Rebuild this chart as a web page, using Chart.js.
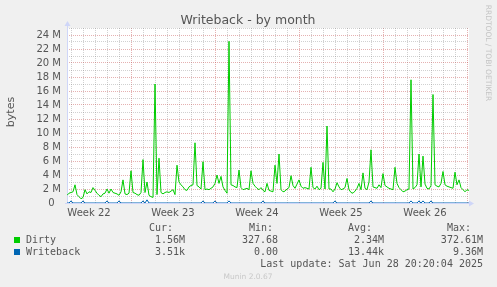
<!DOCTYPE html>
<html>
<head>
<meta charset="utf-8">
<script src="https://cdn.jsdelivr.net/npm/chart.js@4/dist/chart.umd.min.js"></script>
<style>
  html, body { margin: 0; padding: 0; background: #f0f0f0; overflow: hidden; }
  canvas { display: block; }
</style>
</head>
<body>
<canvas id="graph" width="497" height="287"></canvas>
<script>
// ─── DATA ──────────────────────────────────────────────
const STEP_H = 4;          // hours between samples
const FIRST_WEEK_H = 128;  // hour of the first week boundary after start
const weekLabels = ['Week 22', 'Week 23', 'Week 24', 'Week 25', 'Week 26'];

// Dirty, in MB
const dirty = [
  1.1, 1.4, 1.5, 1.6, 2.6, 1.2, 0.9, 0.6, 0.8, 1.9,
  1.3, 1.6, 1.5, 2.2, 1.8, 1.4, 1.1, 0.9, 1.3, 1.4,
  2.0, 1.4, 2.0, 1.5, 1.4, 1.3, 1.1, 1.6, 3.3, 1.3,
  1.2, 1.4, 4.6, 1.5, 1.4, 1.2, 1.1, 1.5, 6.2, 1.5,
  3.0, 1.1, 0.9, 0.8, 17.0, 1.2, 6.4, 1.5, 1.3, 1.5,
  1.6, 1.5, 1.7, 1.9, 1.2, 5.4, 3.0, 2.6, 2.3, 1.9,
  1.8, 2.3, 2.5, 2.6, 8.6, 2.5, 2.3, 2.0, 5.9, 1.9,
  2.0, 1.9, 2.1, 2.3, 2.8, 4.0, 2.8, 3.8, 2.3, 1.8,
  1.4, 23.1, 2.6, 2.5, 2.3, 2.2, 4.7, 2.2, 1.9, 2.0,
  2.1, 1.9, 4.6, 2.8, 2.4, 2.1, 1.9, 2.2, 1.8, 1.6,
  2.8, 1.8, 1.7, 1.6, 5.4, 2.8, 7.0, 1.9, 1.6, 1.7,
  2.0, 2.2, 3.9, 2.5, 2.1, 2.7, 3.3, 2.4, 2.1, 2.2,
  2.1, 2.0, 5.1, 2.2, 2.0, 2.4, 1.9, 2.1, 5.8, 2.0,
  11.0, 2.0, 2.0, 1.6, 2.0, 2.9, 2.3, 1.9, 2.0, 2.2,
  3.5, 1.9, 1.5, 1.4, 1.7, 2.1, 2.8, 1.9, 4.3, 2.1,
  1.9, 3.0, 7.6, 2.3, 2.2, 2.1, 2.6, 2.2, 4.2, 2.5,
  2.3, 2.1, 2.0, 1.9, 5.1, 2.8, 2.2, 1.9, 1.6, 1.7,
  1.9, 2.0, 17.6, 2.0, 2.2, 2.6, 7.0, 2.3, 6.7, 2.7,
  2.1, 2.0, 2.5, 15.5, 2.6, 2.4, 2.3, 2.8, 4.5, 2.6,
  2.4, 2.3, 2.2, 2.1, 4.4, 2.6, 3.3, 2.2, 1.9, 1.6,
  1.9, 1.8
];

// Writeback, in MB
const writeback = [
  0, 0, 0.3, 0, 0, 0, 0, 0, 0.3, 0,  0, 0, 0, 0, 0, 0, 0, 0, 0, 0,
  0.3, 0, 0, 0, 0, 0, 0.3, 0, 0, 0,  0, 0, 0, 0, 0, 0, 0, 0, 0.3, 0,
  0.45, 0, 0, 0, 0, 0, 0, 0, 0, 0,   0, 0, 0, 0, 0, 0, 0, 0, 0, 0,
  0, 0, 0, 0, 0, 0, 0, 0, 0.3, 0,    0, 0, 0, 0, 0.3, 0, 0, 0, 0, 0,
  0, 0.3, 0, 0, 0, 0, 0, 0, 0, 0,    0, 0, 0, 0, 0, 0, 0, 0, 0.3, 0,
  0, 0, 0, 0, 0, 0, 0, 0, 0, 0,      0, 0, 0, 0, 0, 0, 0, 0, 0, 0,
  0, 0, 0, 0, 0, 0, 0, 0, 0, 0,      0, 0, 0, 0, 0.3, 0, 0, 0, 0, 0,
  0, 0, 0, 0, 0, 0, 0, 0, 0, 0,      0, 0, 0.3, 0, 0, 0, 0, 0, 0, 0,
  0, 0, 0, 0, 0, 0, 0, 0, 0, 0,      0, 0, 0.3, 0, 0, 0, 0.3, 0, 0.3, 0,
  0, 0, 0.3, 0, 0, 0, 0, 0, 0, 0,    0, 0, 0, 0, 0, 0, 0, 0, 0, 0,
  0, 0
];

const Y_MAX_M = 25;
const seriesNames = ['Dirty', 'Writeback'];
const curVals = ['1.56M', '3.51k'];
const minVals = ['327.68', '0.00'];
const avgVals = ['2.34M', '13.44k'];
const maxVals = ['372.61M', '9.36M'];
const lastUpdate = 'Last update: Sat Jun 28 20:20:04 2025';

// ─── STYLE ─────────────────────────────────────────────
const M = 1e6;
const COLORS = ['#00cc00', '#0066b3'];
const GRID = 'rgba(128,128,128,0.36)';
const MGRID = 'rgba(190,60,60,0.4)';
const AXIS = '#cfd6f8';
const FONT = '#555555';
const SANS = "'DejaVu Sans', sans-serif";
const MONO = "'DejaVu Sans Mono', monospace";

const xMax = (dirty.length - 1) * STEP_H;
const isLabelTick = v => (v - (FIRST_WEEK_H - 84)) % 168 === 0;

function toPoints(arr) {
  return arr.map((v, i) => ({ x: i * STEP_H, y: v * M }));
}

const muninPlugin = {
  id: 'munin',
  beforeDraw(chart) {
    const { ctx, chartArea: a } = chart;
    ctx.save();
    ctx.fillStyle = '#f0f0f0';
    ctx.fillRect(0, 0, chart.width, chart.height);
    ctx.fillStyle = '#ffffff';
    ctx.fillRect(a.left, a.top, a.right - a.left, a.bottom - a.top);
    ctx.restore();
  },
  beforeDatasetsDraw(chart) {
    const { ctx, chartArea: a } = chart;
    const x0 = Math.round(a.left) + 0.5;
    const y0 = Math.round(a.bottom) + 0.5;
    ctx.save();
    ctx.strokeStyle = AXIS;
    ctx.fillStyle = AXIS;
    ctx.lineWidth = 1;
    ctx.beginPath();
    ctx.moveTo(x0, y0);
    ctx.lineTo(x0, a.top - 3);
    ctx.moveTo(a.left - 2, y0);
    ctx.lineTo(a.right + 1, y0);
    ctx.stroke();
    // arrows
    ctx.beginPath();
    ctx.moveTo(x0 - 3, a.top - 2);
    ctx.lineTo(x0 + 3, a.top - 2);
    ctx.lineTo(x0, a.top - 7);
    ctx.closePath();
    ctx.fill();
    ctx.beginPath();
    ctx.moveTo(a.right, y0 - 3);
    ctx.lineTo(a.right, y0 + 3);
    ctx.lineTo(a.right + 5, y0);
    ctx.closePath();
    ctx.fill();
    ctx.restore();
  },
  afterDraw(chart) {
    const { ctx } = chart;
    ctx.save();
    ctx.fillStyle = FONT;
    ctx.textBaseline = 'alphabetic';

    ctx.font = '12.5px ' + SANS;
    ctx.textAlign = 'center';
    ctx.fillText('Writeback - by month', 248, 24);

    ctx.save();
    ctx.font = '11px ' + SANS;
    ctx.translate(14, 112);
    ctx.rotate(-Math.PI / 2);
    ctx.textAlign = 'center';
    ctx.fillText('bytes', 0, 0);
    ctx.restore();

    ctx.save();
    ctx.fillStyle = '#c4c4c4';
    ctx.font = '7.5px ' + SANS;
    ctx.translate(486, 53);
    ctx.rotate(Math.PI / 2);
    ctx.textAlign = 'center';
    ctx.fillText('RRDTOOL / TOBI OETIKER', 0, 0);
    ctx.restore();

    // legend
    ctx.font = '10px ' + MONO;
    ctx.textAlign = 'left';
    ctx.fillText('Cur:', 149, 231);
    ctx.fillText('Min:', 249, 231);
    ctx.fillText('Avg:', 348, 231);
    ctx.fillText('Max:', 447, 231);

    seriesNames.forEach((name, i) => {
      const base = 243 + i * 12;
      ctx.fillStyle = COLORS[i];
      ctx.fillRect(14, 237 + i * 12, 6, 6);
      ctx.fillStyle = FONT;
      ctx.textAlign = 'left';
      ctx.fillText(name, 26, base);
      ctx.textAlign = 'right';
      ctx.fillText(curVals[i], 185, base);
      ctx.fillText(minVals[i], 278, base);
      ctx.fillText(avgVals[i], 384, base);
      ctx.fillText(maxVals[i], 483, base);
    });

    ctx.textAlign = 'right';
    ctx.fillText(lastUpdate, 483, 267);

    ctx.fillStyle = '#c8c8c8';
    ctx.font = '7.5px ' + SANS;
    ctx.textAlign = 'center';
    ctx.fillText('Munin 2.0.67', 248, 279);
    ctx.restore();
  }
};

new Chart(document.getElementById('graph'), {
  type: 'line',
  data: {
    datasets: [
      { label: 'Dirty', data: toPoints(dirty), borderColor: COLORS[0], borderWidth: 1, pointRadius: 0, tension: 0, fill: false },
      { label: 'Writeback', data: toPoints(writeback), borderColor: COLORS[1], borderWidth: 1, pointRadius: 0, tension: 0, fill: false }
    ]
  },
  options: {
    responsive: false,
    animation: false,
    devicePixelRatio: 1,
    events: [],
    layout: { padding: { left: 0, top: 28, right: 28, bottom: 0 } },
    plugins: { legend: { display: false }, tooltip: { enabled: false } },
    scales: {
      x: {
        type: 'linear',
        min: 0,
        max: xMax,
        afterBuildTicks(scale) {
          const t = [];
          for (let h = FIRST_WEEK_H % 24; h <= xMax; h += 24) t.push({ value: h });
          weekLabels.forEach((_, k) => t.push({ value: FIRST_WEEK_H - 84 + 168 * k }));
          t.sort((a, b) => a.value - b.value);
          scale.ticks = t;
        },
        afterFit(scale) { scale.height = 84; },
        ticks: {
          autoSkip: false,
          maxRotation: 0,
          padding: 4,
          color: FONT,
          font: { family: SANS, size: 10 },
          callback: v => isLabelTick(v) ? weekLabels[(v - (FIRST_WEEK_H - 84)) / 168] : ''
        },
        grid: {
          drawTicks: false,
          color: ctx => {
            const v = ctx.tick.value;
            if (isLabelTick(v)) return 'transparent';
            return (v - FIRST_WEEK_H) % 168 === 0 ? MGRID : GRID;
          }
        },
        border: { display: false, dash: [1, 1] }
      },
      y: {
        min: 0,
        max: Y_MAX_M * M,
        afterBuildTicks(scale) {
          const t = [];
          for (let k = 0; k <= Y_MAX_M; k++) t.push({ value: k * M });
          scale.ticks = t;
        },
        afterFit(scale) { scale.width = 67; },
        ticks: {
          autoSkip: false,
          padding: 6,
          color: FONT,
          font: { family: SANS, size: 10 },
          callback: v => {
            const k = Math.round(v / M);
            if (k === 0) return '0  ';
            return k % 2 === 0 ? k + ' M' : '';
          }
        },
        grid: {
          drawTicks: false,
          color: ctx => Math.round(ctx.tick.value / M) % 2 === 0 ? MGRID : GRID
        },
        border: { display: false, dash: [1, 1] }
      }
    }
  },
  plugins: [muninPlugin]
});
</script>
</body>
</html>
